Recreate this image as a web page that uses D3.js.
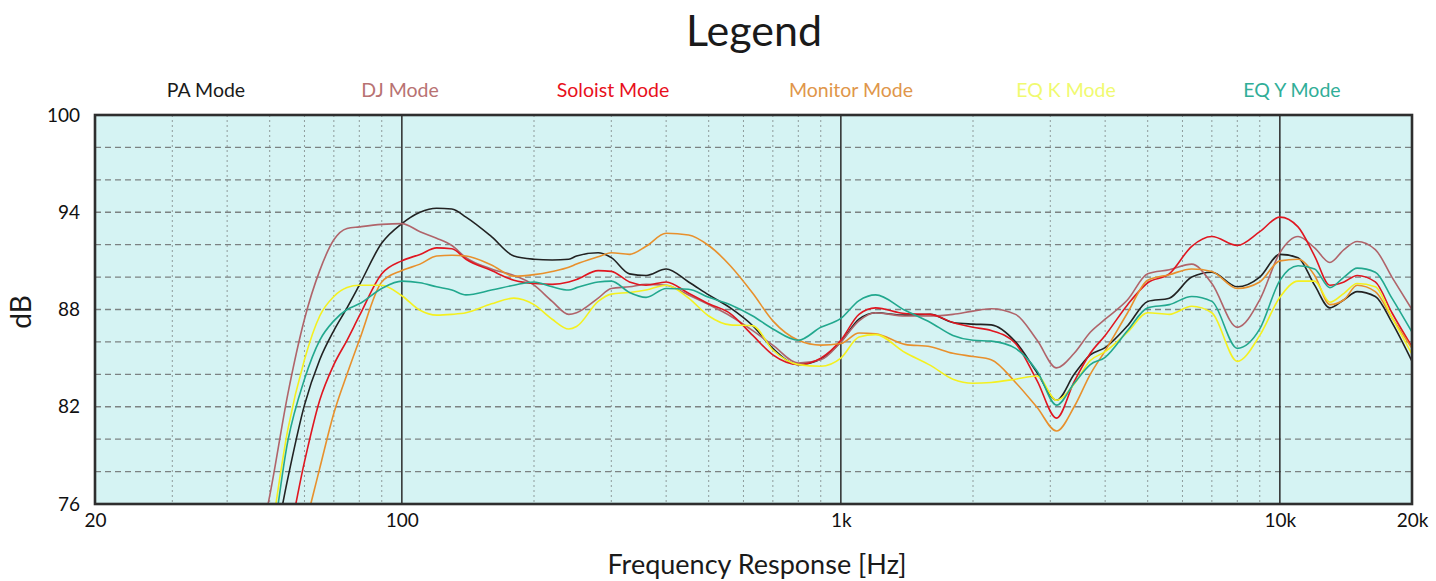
<!DOCTYPE html>
<html>
<head>
<meta charset="utf-8">
<script src="https://cdn.jsdelivr.net/npm/d3@7"></script>
<style>
  html, body { margin: 0; padding: 0; background: #ffffff; }
  svg { display: block; font-family: Lato, "Open Sans", sans-serif; }
</style>
</head>
<body>
<svg id="chart" width="1436" height="581"></svg>
<script>
// ---------------- DATA ----------------
const title = "Legend";
const xAxisTitle = "Frequency Response [Hz]";
const yAxisTitle = "dB";
const seriesNames = ["PA Mode", "DJ Mode", "Soloist Mode", "Monitor Mode", "EQ K Mode", "EQ Y Mode"];
const xTickValues = [20, 100, 1000, 10000, 20000];
const xTickLabels = ["20", "100", "1k", "10k", "20k"];
const yTickValues = [76, 82, 88, 94, 100];
const yTickLabels = ["76", "82", "88", "94", "100"];

const freqs = [45,50,55,60,65,70,75,80,90,100,
  110,120,130,140,160,180,200,220,240,250,
  280,300,330,360,400,450,500,560,630,700,
  800,900,1000,1100,1200,1400,1600,1800,2000,2200,
  2500,2800,3100,3400,3700,4000,4500,5000,5600,6300,
  7000,8000,9000,10000,11000,12000,13000,14000,15000,16500,
  18000,20000];

const paMode = [68,72,77.6,82.1,84.9,86.7,88.1,89.5,92.1,93.3,
  94.0,94.25,94.2,93.7,92.5,91.3,91.1,91.05,91.1,91.3,
  91.5,91.2,90.2,90.1,90.5,89.7,88.9,88.1,87.0,85.6,
  84.6,84.95,86.0,87.4,87.8,87.65,87.7,87.2,87.1,87.05,
  86.0,84.1,82.4,84.0,85.2,85.65,87.0,88.5,88.7,90.0,
  90.3,89.4,90.0,91.4,91.2,89.5,88.1,88.6,89.1,88.8,
  87.2,84.8];

const djMode = [71,76.5,82.8,87.4,90.4,92.3,93.0,93.1,93.25,93.3,
  92.8,92.4,91.95,91.2,90.5,90.1,89.5,88.5,87.7,87.8,
  88.7,89.3,89.4,89.55,89.5,88.9,88.3,87.6,86.7,85.8,
  84.7,84.9,86.0,87.3,87.8,87.6,87.6,87.7,87.9,88.05,
  87.7,86.1,84.4,85.3,86.6,87.4,88.6,90.2,90.45,90.8,
  89.6,86.9,88.6,91.5,92.5,91.8,90.9,91.7,92.2,91.7,
  90.0,88.0];

const soloistMode = [68,71,73.8,78.6,82.4,84.6,86.1,87.6,90.2,91.0,
  91.4,91.8,91.75,91.1,90.4,89.8,89.6,89.55,89.7,89.85,
  90.4,90.35,89.7,89.5,89.7,89.0,88.35,87.75,86.4,85.2,
  84.6,85.0,86.1,87.7,88.1,87.75,87.7,87.2,86.9,86.7,
  85.9,83.6,81.3,83.55,85.3,86.4,88.3,89.65,90.2,91.9,
  92.5,91.95,92.8,93.7,93.1,91.3,89.5,89.7,90.1,89.7,
  87.8,85.7];

const monitorMode = [63,67,71,74.5,78.2,81.6,84.0,86.1,89.7,90.4,
  90.8,91.3,91.35,91.3,90.75,90.05,90.15,90.35,90.6,90.8,
  91.25,91.5,91.4,91.9,92.7,92.6,91.95,90.7,89.0,87.3,
  86.1,85.8,85.9,86.55,86.5,85.85,85.7,85.3,85.1,84.9,
  83.5,81.95,80.5,82.0,84.0,85.45,87.8,89.8,90.15,90.5,
  90.35,89.3,89.7,91.0,91.1,90.1,88.3,88.6,89.5,89.1,
  87.5,85.6];

const eqKMode = [66,73.5,80.6,84.9,87.6,88.8,89.35,89.5,89.5,88.85,
  87.95,87.65,87.7,87.8,88.35,88.7,88.3,87.4,86.8,86.95,
  88.5,88.95,89.05,89.2,89.5,88.7,87.6,87.05,87.0,85.5,
  84.6,84.5,85.0,86.3,86.45,85.35,84.55,83.7,83.45,83.5,
  83.7,83.9,82.4,83.4,84.85,85.4,86.6,87.8,87.7,88.2,
  87.8,84.8,86.4,88.75,89.75,89.75,88.45,89.0,89.6,89.4,
  87.5,85.25];

const eqYMode = [67,72.5,79.9,83.7,86.1,87.3,88.0,88.35,89.3,89.75,
  89.65,89.4,89.2,88.9,89.2,89.5,89.7,89.4,89.2,89.35,
  89.7,89.75,89.05,88.75,89.3,89.25,88.75,88.3,87.6,86.8,
  86.1,86.9,87.45,88.55,88.9,87.95,87.2,86.4,86.1,86.05,
  85.6,84.2,82.1,83.45,84.6,85.05,86.7,88.1,88.3,88.8,
  88.5,85.6,86.8,89.8,90.7,90.5,89.35,90.0,90.55,90.3,
  88.7,86.6];

const seriesValues = [paMode, djMode, soloistMode, monitorMode, eqKMode, eqYMode];
const lineColors = ["#222222", "#b0646a", "#e01620", "#e8902c", "#f4f020", "#22a88e"];
const labelColors = ["#1a1a1a", "#b87272", "#e8101c", "#e0964a", "#f0fa70", "#30ae98"];

// ---------------- LAYOUT ----------------
const svg = d3.select("#chart");
const W = 1436, H = 581;
const plot = { left: 95, right: 1412, top: 115, bottom: 504 };
const legendCenters = [206, 400, 613, 851, 1066, 1292];

const x = d3.scaleLog().domain([20, 20000]).range([plot.left, plot.right]);
const y = d3.scaleLinear().domain([76, 100]).range([plot.bottom, plot.top]);

// background
svg.append("rect")
  .attr("x", plot.left).attr("y", plot.top)
  .attr("width", plot.right - plot.left).attr("height", plot.bottom - plot.top)
  .attr("fill", "#d5f3f3");

// minor vertical grid (dotted)
const minorFreqs = [];
[10, 100, 1000].forEach(dec => {
  for (let k = 2; k <= 9; k++) {
    const f = k * dec;
    if (f > 20 && f < 20000 && f !== 100 && f !== 1000 && f !== 10000) minorFreqs.push(f);
  }
});
svg.append("g").selectAll("line").data(minorFreqs.filter(f => f < 10000)).join("line")
  .attr("x1", d => x(d)).attr("x2", d => x(d))
  .attr("y1", plot.top).attr("y2", plot.bottom)
  .attr("stroke", "#8f9b9b").attr("stroke-width", 1)
  .attr("stroke-dasharray", "2,3");

// horizontal grid (dashed)
const hGrid = d3.range(78, 100, 2);
svg.append("g").selectAll("line").data(hGrid).join("line")
  .attr("x1", plot.left).attr("x2", plot.right)
  .attr("y1", d => y(d)).attr("y2", d => y(d))
  .attr("stroke", "#7c8282").attr("stroke-width", 1.3)
  .attr("stroke-dasharray", "6,4");

// major vertical lines
svg.append("g").selectAll("line").data([100, 1000, 10000]).join("line")
  .attr("x1", d => x(d)).attr("x2", d => x(d))
  .attr("y1", plot.top).attr("y2", plot.bottom)
  .attr("stroke", "#2b2b2b").attr("stroke-width", 1.5);

// clip
svg.append("defs").append("clipPath").attr("id", "clip")
  .append("rect")
  .attr("x", plot.left).attr("y", plot.top)
  .attr("width", plot.right - plot.left).attr("height", plot.bottom - plot.top);

const line = d3.line()
  .x(d => x(d[0]))
  .y(d => y(d[1]))
  .curve(d3.curveMonotoneX);

const linesG = svg.append("g").attr("clip-path", "url(#clip)");
seriesValues.forEach((vals, i) => {
  linesG.append("path")
    .datum(freqs.map((f, j) => [f, vals[j]]))
    .attr("d", line)
    .attr("fill", "none")
    .attr("stroke", lineColors[i])
    .attr("stroke-width", 1.6)
    .attr("stroke-linejoin", "round");
});

// border
svg.append("rect")
  .attr("x", plot.left).attr("y", plot.top)
  .attr("width", plot.right - plot.left).attr("height", plot.bottom - plot.top)
  .attr("fill", "none").attr("stroke", "#2e2e2e").attr("stroke-width", 2.6);

// axes
const xAxis = d3.axisBottom(x)
  .tickValues(xTickValues)
  .tickFormat((d, i) => xTickLabels[i])
  .tickSize(0).tickPadding(10);
const gx = svg.append("g").attr("transform", `translate(0,${plot.bottom})`).call(xAxis);
gx.select(".domain").remove();
gx.selectAll("text").attr("font-size", 19).attr("fill", "#111").attr("font-family", "Lato, sans-serif");

const yAxis = d3.axisLeft(y)
  .tickValues(yTickValues)
  .tickFormat((d, i) => yTickLabels[i])
  .tickSize(0).tickPadding(15);
const gy = svg.append("g").attr("transform", `translate(${plot.left},0)`).call(yAxis);
gy.select(".domain").remove();
gy.selectAll("text").attr("font-size", 19).attr("fill", "#111").attr("font-family", "Lato, sans-serif");

// titles
svg.append("text")
  .attr("x", 754).attr("y", 46)
  .attr("text-anchor", "middle")
  .attr("font-size", 43).attr("fill", "#1a1a1a")
  .text(title);

svg.append("text")
  .attr("x", 757).attr("y", 574)
  .attr("text-anchor", "middle")
  .attr("font-size", 27).attr("fill", "#1a1a1a")
  .text(xAxisTitle);

svg.append("text")
  .attr("transform", "translate(31,312) rotate(-90)")
  .attr("text-anchor", "middle")
  .attr("font-size", 28).attr("fill", "#1a1a1a")
  .text(yAxisTitle);

// legend labels
svg.append("g").selectAll("text").data(seriesNames).join("text")
  .attr("x", (d, i) => legendCenters[i])
  .attr("y", 97)
  .attr("text-anchor", "middle")
  .attr("font-size", 19.5)
  .attr("fill", (d, i) => labelColors[i])
  .text(d => d);
</script>
</body>
</html>
